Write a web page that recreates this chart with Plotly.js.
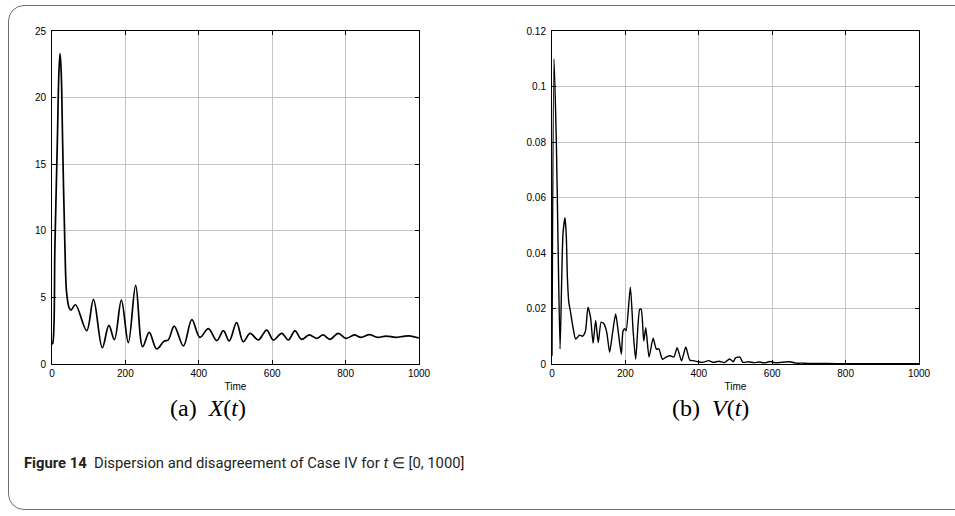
<!DOCTYPE html>
<html>
<head>
<meta charset="utf-8">
<script src="https://cdn.plot.ly/plotly-3.0.1.min.js"></script>
<style>
html,body{margin:0;padding:0;background:#fff;}
#wrap{position:relative;width:955px;height:516px;overflow:hidden;}
#frame{position:absolute;left:8px;top:5px;width:1000px;height:505px;border:1.2px solid #6e6e6e;border-radius:16px;box-sizing:border-box;}
#chart{position:absolute;left:0;top:0;width:955px;height:516px;}
</style>
</head>
<body>
<div id="wrap"><div id="frame"></div><div id="chart"></div></div>
<script>
// X(t): dispersion
const tX = [0,2,8,14.5,19,22,25,29,35,40,47,52,64,94.5,113,137,155,170,189,208,228,247,265,285,305,317,333,358,381,403,426,449,467,483,503,521,540,562,585,603,626,644,662,680,701,721,739,757,780,801,824,842,865,887,910,937,958,978,1000];
const X  = [1.5,1.55,9,16.6,22,23.3,22,16.6,9,5.3,4.2,4.05,4.45,2.5,4.85,1.22,2.9,1.83,4.8,1.6,5.9,1.3,2.38,1.13,1.7,1.82,2.85,1.35,3.33,2.0,2.65,1.75,2.5,1.73,3.1,1.68,2.3,1.8,2.55,1.8,2.3,1.8,2.48,1.85,2.18,1.93,2.18,1.85,2.3,1.93,2.18,2.0,2.2,2.0,2.1,2.0,2.08,2.1,1.95];
// V(t): disagreement
const tV = [0,5.5,12,16.5,22,26.5,30,35.5,39,42,46,49.5,57,64.5,75,83,91,98,105,112,119,126,134,141,149,157,164.5,173.5,181,189,193.5,198,202,213.5,221,228,239,243,250,255.5,264.5,275.5,284.5,291,301,312,322,332,341,353,364.5,375.5,385,398,410,427,440,455,470,484,494,500,512,520,535,550,565,580,594,610,625,648,665,680,700,750,800,850,900,1000];
const V  = [0.003,0.110,0.079,0.043,0.0054,0.031,0.047,0.0527,0.046,0.031,0.022,0.0195,0.0134,0.009,0.0104,0.0100,0.0118,0.0205,0.0168,0.0075,0.0157,0.0077,0.0151,0.0146,0.0116,0.0042,0.0108,0.018,0.011,0.0035,0.0119,0.0127,0.012,0.0277,0.012,0.0017,0.0197,0.0197,0.0083,0.0131,0.0025,0.0093,0.0053,0.0055,0.0017,0.0026,0.0030,0.0025,0.0059,0.0011,0.0061,0.0014,0.0012,0.0008,0.0006,0.0012,0.0006,0.0010,0.0005,0.0018,0.0008,0.0022,0.0025,0.0006,0.0008,0.0005,0.0007,0.0004,0.0009,0.0004,0.0006,0.0008,0.0003,0.0003,0.0002,0.0002,0.0001,0.0001,0.0001,0.0001];

const xTicks = [0,200,400,600,800,1000];
const yTicksX = [0,5,10,15,20,25];
const yTicksV = [0,0.02,0.04,0.06,0.08,0.1,0.12];
const yTickTextV = ['0','0.02','0.04','0.06','0.08','0.1','0.12'];
const xTitle = 'Time';
const subA = '(a)  <i>X</i>(<i>t</i>)';
const subB = '(b)  <i>V</i>(<i>t</i>)';
const caption = '<b>Figure 14</b>  Dispersion and disagreement of Case IV for <i>t</i> ∈ [0, 1000]';

const W = 955, H = 516;
const px = v => v / W, py = v => 1 - v / H;

const tickFont = {family:'Liberation Sans, Arial, sans-serif', size:10, color:'#000'};
function xax(dom){
  return {domain:dom, range:[0,1000], tickvals:xTicks, ticks:'inside', ticklen:4, tickcolor:'#000',
    showline:true, linecolor:'#000', linewidth:1, mirror:'ticks', showgrid:true, gridcolor:'#c4c4c4', gridwidth:1,
    zeroline:false, tickfont:tickFont, title:{text:xTitle, font:tickFont, standoff:4}, fixedrange:true};
}
function yax(anchor, range, vals, text){
  return {domain:[py(364), py(31)], range:range, tickvals:vals, ticktext:text, ticks:'inside', ticklen:4, tickcolor:'#000',
    showline:true, linecolor:'#000', linewidth:1, mirror:'ticks', showgrid:true, gridcolor:'#c4c4c4', gridwidth:1,
    zeroline:false, tickfont:tickFont, ticklabelstandoff:3, anchor:anchor, fixedrange:true};
}

const data = [
  {x:tX, y:X, type:'scatter', mode:'lines', line:{color:'#000', width:1.7, shape:'spline', smoothing:1}, xaxis:'x', yaxis:'y', hoverinfo:'skip'},
  {x:tV, y:V, type:'scatter', mode:'lines', line:{color:'#000', width:1.4, shape:'spline', smoothing:0.6}, xaxis:'x2', yaxis:'y2', hoverinfo:'skip'}
];

const subFont = {family:'Liberation Serif, DejaVu Serif, serif', size:24, color:'#000'};
const layout = {
  width:W, height:H, margin:{l:0,r:0,t:0,b:0}, paper_bgcolor:'rgba(0,0,0,0)', plot_bgcolor:'#fff', showlegend:false,
  xaxis: Object.assign(xax([px(52), px(419)]), {anchor:'y'}),
  yaxis: yax('x', [0,25], yTicksX, yTicksX.map(String)),
  xaxis2: Object.assign(xax([px(552), px(919)]), {anchor:'y2'}),
  yaxis2: yax('x2', [0,0.12], yTicksV, yTickTextV),
  annotations:[
    {text:subA, xref:'paper', yref:'paper', x:px(208), y:py(408), xanchor:'center', yanchor:'middle', showarrow:false, font:subFont},
    {text:subB, xref:'paper', yref:'paper', x:px(710), y:py(408), xanchor:'center', yanchor:'middle', showarrow:false, font:subFont},
    {text:caption, xref:'paper', yref:'paper', x:px(22), y:py(463), xanchor:'left', yanchor:'middle', showarrow:false,
     font:{family:'Roboto, Noto Sans, sans-serif', size:14.8, color:'#231f20'}}
  ]
};
Plotly.newPlot('chart', data, layout, {staticPlot:true, displayModeBar:false});
</script>
</body>
</html>
